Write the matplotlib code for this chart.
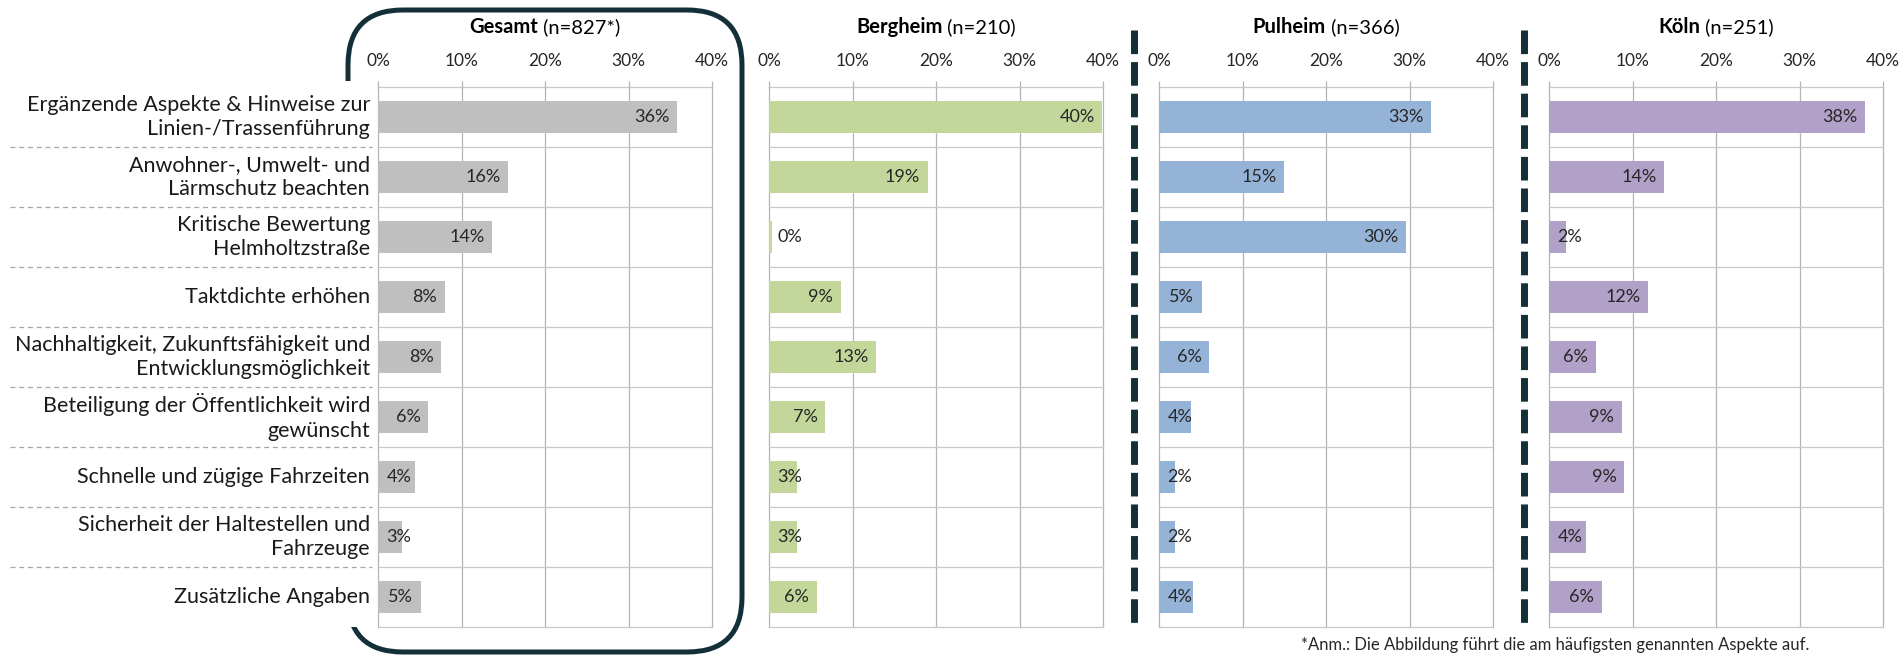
import matplotlib
matplotlib.use('Agg')
import matplotlib.pyplot as plt
from matplotlib.patches import FancyBboxPatch

plt.rcParams['font.family'] = ['Lato', 'DejaVu Sans']

# ---------------- data ----------------
categories = [
    "Ergänzende Aspekte & Hinweise zur\nLinien-/Trassenführung",
    "Anwohner-, Umwelt- und\nLärmschutz beachten",
    "Kritische Bewertung\nHelmholtzstraße",
    "Taktdichte erhöhen",
    "Nachhaltigkeit, Zukunftsfähigkeit und\nEntwicklungsmöglichkeit",
    "Beteiligung der Öffentlichkeit wird\ngewünscht",
    "Schnelle und zügige Fahrzeiten",
    "Sicherheit der Haltestellen und\nFahrzeuge",
    "Zusätzliche Angaben",
]
group_names = ["Gesamt", "Bergheim", "Pulheim", "Köln"]
group_n = ["(n=827*)", "(n=210)", "(n=366)", "(n=251)"]

gesamt = [35.8, 15.6, 13.7, 8.0, 7.6, 6.0, 4.4, 2.9, 5.1]
bergheim = [39.9, 19.0, 0.4, 8.6, 12.8, 6.7, 3.3, 3.3, 5.7]
pulheim = [32.6, 15.0, 29.6, 5.1, 6.0, 3.8, 1.9, 1.9, 4.1]
koeln = [37.8, 13.8, 2.0, 11.9, 5.6, 8.7, 9.0, 4.4, 6.3]

x_ticks = [0, 10, 20, 30, 40]
tick_labels = ["0%", "10%", "20%", "30%", "40%"]
footnote = "*Anm.: Die Abbildung führt die am häufigsten genannten Aspekte auf."

# ---------------- style ----------------
W, H, DPI = 1901, 656, 100
bar_colors = ['#bfbfbf', '#c4d79b', '#95b3d7', '#b1a0c7']
dark = '#132f37'
grid_c = '#b4b4b4'
text_c = '#262626'

fig = plt.figure(figsize=(W / DPI, H / DPI), dpi=DPI)


def px_rect(x0, y0, x1, y1):
    return [x0 / W, 1 - y1 / H, (x1 - x0) / W, (y1 - y0) / H]


# background axes in pixel units (decorations)
bg = fig.add_axes([0, 0, 1, 1], zorder=0)
bg.set_xlim(0, W)
bg.set_ylim(H, 0)
bg.axis('off')

box = FancyBboxPatch((348, 10), 394, 642,
                     boxstyle="round,pad=0,rounding_size=55",
                     facecolor='none', edgecolor=dark, linewidth=3.6)
bg.add_patch(box)
for xs in (1134, 1524):
    bg.plot([xs, xs], [30, 627], color=dark, linewidth=5,
            linestyle=(0, (3.4, 1.15)), solid_capstyle='butt')

top_px, bot_px = 87, 627
panel_left = [378, 769, 1159, 1549]
panel_w = 334
n = len(categories)
ypos = list(range(n))

# category label axes
ax_lab = fig.add_axes(px_rect(0, top_px - 6, 376, bot_px), zorder=1)
ax_lab.set_xlim(0, 376)
span = (bot_px - top_px) / n
ax_lab.set_ylim(n - 0.5, -0.5 - 6 / span)
ax_lab.axis('off')
ax_lab.add_patch(plt.Rectangle((0, -0.5 - 6 / span), 376, n + 6 / span,
                               facecolor='white', edgecolor='none', zorder=0))
for i, c in enumerate(categories):
    ax_lab.text(370, i, c, ha='right', va='center', fontsize=15.5,
                color='#1a1a1a', linespacing=1.28, multialignment='right')
for i in range(n - 1):
    ax_lab.plot([10, 372], [i + 0.5, i + 0.5], color='#a6a6a6', lw=0.9,
                linestyle=(0, (4, 3)))

series = [gesamt, bergheim, pulheim, koeln]
for k, (vals, col) in enumerate(zip(series, bar_colors)):
    ax = fig.add_axes(px_rect(panel_left[k], top_px, panel_left[k] + panel_w, bot_px),
                      zorder=2)
    ax.barh(ypos, vals, height=0.53, color=col, zorder=3)
    ax.set_xlim(0, 40)
    ax.set_ylim(n - 0.5, -0.5)
    for s in ax.spines.values():
        s.set_visible(False)
    ax.set_yticks([])
    ax.set_xticks(x_ticks)
    ax.set_xticklabels(tick_labels)
    ax.xaxis.tick_top()
    ax.tick_params(axis='x', length=4, width=0.9, color=grid_c, labelsize=12.5,
                   labelcolor=text_c, pad=9)
    for xt in x_ticks:
        ax.axvline(xt, color=grid_c, lw=0.9, zorder=1, clip_on=False)
    for b in range(n + 1):
        ax.axhline(b - 0.5, color='#c8c8c8', lw=0.9, zorder=1, clip_on=False)
    for i, v in enumerate(vals):
        ax.text(max(v - 0.9, 4.0), i, f"{v:.0f}%", ha='right', va='center',
                fontsize=13, color=text_c, zorder=4)

# titles with bold name + normal n
fig.canvas.draw()
r = fig.canvas.get_renderer()
title_y = 1 - 27 / H
for k in range(4):
    xc = panel_left[k] + panel_w / 2
    t1 = fig.text(0, title_y, group_names[k], fontweight='bold', fontsize=14.5,
                  va='center', ha='left', color='black')
    t2 = fig.text(0, title_y, " " + group_n[k], fontsize=14.5,
                  va='center', ha='left', color='black')
    w1 = t1.get_window_extent(r).width
    w2 = t2.get_window_extent(r).width
    x0 = xc - (w1 + w2) / 2
    t1.set_x(x0 / W)
    t2.set_x((x0 + w1) / W)

fig.text(1301 / W, 3 / H, footnote, ha='left', va='bottom', fontsize=12,
         color=text_c)

fig.savefig('out.png', dpi=DPI)
